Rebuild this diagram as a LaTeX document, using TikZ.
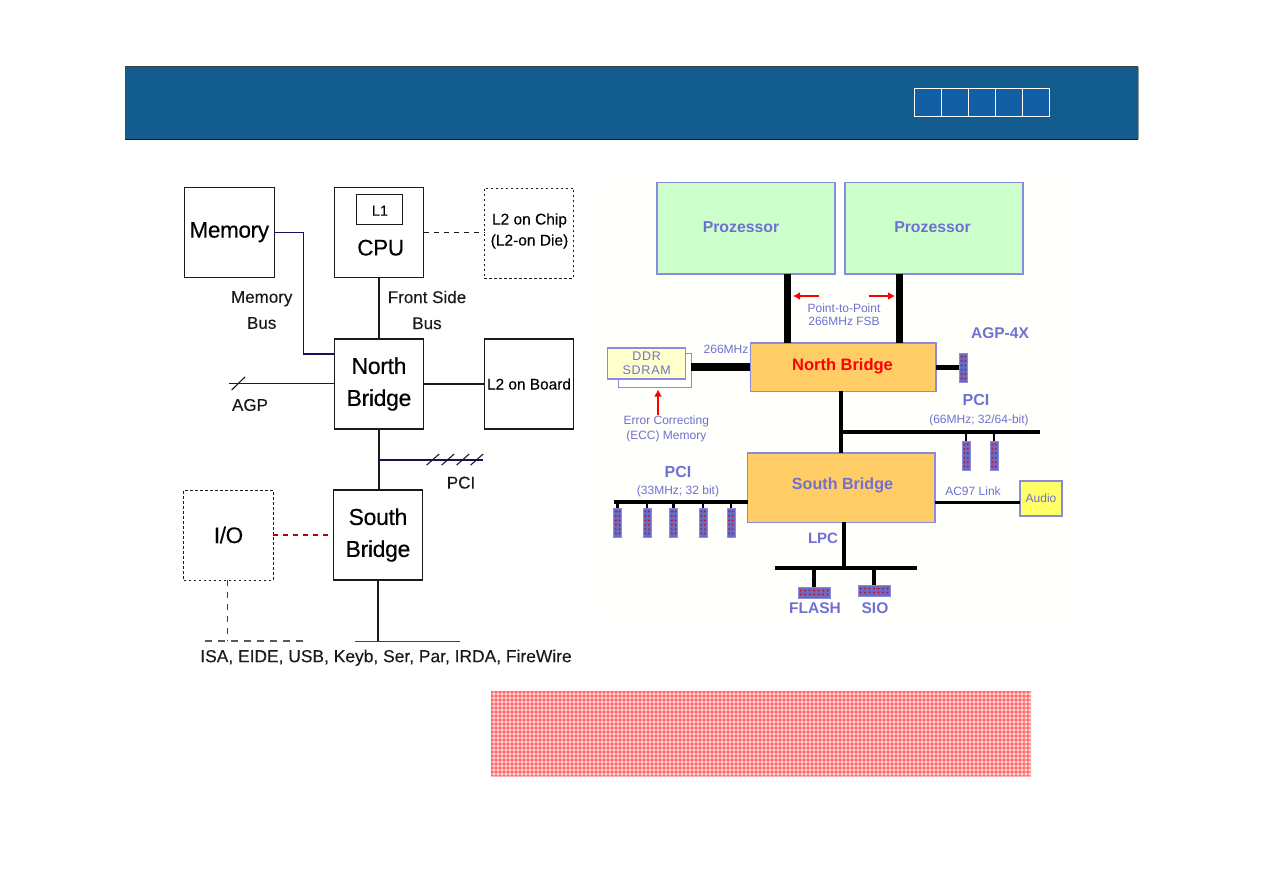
\documentclass[tikz,border=0pt]{standalone}
\usepackage{fontspec}
\setmainfont{Liberation Sans}
\usetikzlibrary{arrows.meta}
\definecolor{band}{HTML}{135C8E}
\definecolor{cell}{HTML}{125FA6}
\definecolor{ink}{HTML}{1A1A1A}
\definecolor{lav}{HTML}{7070D2}
\definecolor{edge}{HTML}{8A8ADF}
\definecolor{mint}{HTML}{CCFFCC}
\definecolor{amber}{HTML}{FFCC66}
\definecolor{cream}{HTML}{FFFFCC}
\definecolor{lemon}{HTML}{FFFF66}
\definecolor{chipblue}{HTML}{6A6AC4}
\definecolor{panel}{HTML}{FFFFFB}
\newcommand{\fs}[1]{\fontsize{#1}{#1}\selectfont}
\newcommand{\vchip}[3]{% name, centre x, top y
  \node[chipbox,minimum width=8pt,minimum height=29pt,anchor=north] (#1) at (#2,#3) {};
  \foreach \k in {0,...,5}{
    \fill[red!85!black] (#2-1.8,#3+3.5+\k*4.4) circle (0.9);
    \fill[red!85!black] (#2+1.8,#3+3.5+\k*4.4) circle (0.9);}
}
\newcommand{\hchip}[3]{% name, centre x, top y
  \node[chipbox,minimum width=32pt,minimum height=11pt,anchor=north] (#1) at (#2,#3) {};
  \foreach \k in {0,...,6}{
    \fill[red!85!black] (#2-13.5+\k*4.5,#3+3.6) circle (0.9);
    \fill[red!85!black] (#2-13.5+\k*4.5,#3+7.4) circle (0.9);}
}
\tikzset{
  x=1pt,y=-1pt,
  every node/.style={inner sep=0pt,outer sep=0pt,align=center},
  sq/.style={draw=ink,line width=1.1pt,fill=white,minimum width=89.5pt,minimum height=90pt},
  sqdash/.style={sq,line width=.9pt,dash pattern=on 2.5pt off 2.5pt},
  big/.style={font=\fs{22.5}\addfontfeature{LetterSpace=-1.5,FakeBold=0.25},text=black},
  twolines/.style={font=\fontsize{23}{32}\selectfont\addfontfeature{LetterSpace=-1.5,FakeBold=0.25},text=black},
  small/.style={font=\fs{17}\addfontfeature{FakeBold=0.12},text=ink},
  wire/.style={draw=ink,line width=1.1pt},
  dashwire/.style={wire,dash pattern=on 5pt off 5pt},
  violet label/.style={text=lav,font=\fs{12}},
  violet bold/.style={text=lav,font=\bfseries\fs{15.5}},
  panelbox/.style={draw=edge,line width=1.4pt,minimum height=91.5pt,minimum width=178pt,fill=mint},
  bridge/.style={draw=edge,line width=1.4pt,fill=amber},
  chipbox/.style={draw=edge,line width=.8pt,fill=chipblue},
  bus/.style={line width=#1,draw=black},
  redarrow/.style={draw=red,line width=2pt,-{Latex[length=7pt,width=8pt]}},
  headcell/.style={draw=white,line width=1.2pt,fill=cell,minimum width=27pt,minimum height=28pt},
}
\begin{document}
\begin{tikzpicture}
\useasboundingbox (0,0) rectangle (1263,893);
\fill[white] (0,0) rectangle (1263,893);

% title band with its row of cells
\node[fill=band,minimum width=1013pt,minimum height=72pt,anchor=north west] (title) at (125,67) {};
\draw[black!75,line width=1pt] (title.north west) -- (title.north east);
\draw[black!90,line width=.8pt] (title.south west) -- (title.south east);
\draw[black!40,line width=1pt] (title.north east) -- (title.south east);
\foreach \n/\cx in {1/928,2/955,3/982.3,4/1009,5/1036}
  \node[headcell] (cell\n) at (\cx,102.7) {};

% block diagram on the left
\node[sq,big] (mem) at (229.3,232.2) {Memory};
\node[sq] (cpu) at (379,232.2) {};
\node[draw=ink,line width=1pt,minimum width=46pt,minimum height=30pt] (lone) at (379,210) {};
\node[font=\fs{14.5}\addfontfeature{FakeBold=0.12},text=black] (lonetxt) at (380,210.7) {L1};
\node[big] (cputxt) at (380.7,247.7) {CPU};
\node[sqdash] (ltwochip) at (529,233) {};
\node[font=\fontsize{15.5}{21}\selectfont\addfontfeature{FakeBold=0.12},text=black] (ltwochiptxt) at (529.5,231) {L2 on Chip\\(L2-on Die)};
\node[sq,twolines] (nb) at (379,384) {North\\Bridge};
\node[sq,font=\fs{15.4}\addfontfeature{FakeBold=0.12}] (ltwoboard) at (529,384) {L2 on Board};
\node[sq,twolines] (sb) at (378,535) {South\\Bridge};
\node[sqdash,big] (io) at (228.5,535) {I/O};

\coordinate (memkink) at (303.5,354);
\coordinate (agpend) at (229,383.8);
\coordinate (pcitap) at (378.5,460);
\coordinate (pciend) at (483,460);
\coordinate (isatap) at (227.7,641);
\coordinate (dashleft) at (205,641);
\coordinate (dashright) at (303,641);
\coordinate (busleft) at (355,641.5);
\coordinate (busright) at (460,641.5);

\draw[wire,draw=blue!30!ink] (mem.east) -| (memkink) -- (nb.west |- memkink);
\draw[wire] (cpu.south) -- (nb.north);
\draw[dashwire] (cpu.east) -- (ltwochip.west |- cpu.east);
\draw[wire,draw=blue!65!ink] (agpend) -- (nb.west |- agpend);
\draw[wire] (231.7,390) -- (245,377);
\draw[wire] (nb.east) -- (ltwoboard.west);
\draw[wire] (nb.south) -- (sb.north -| nb.south);
\draw[wire,draw=blue!25!ink] (pcitap) -- (pciend);
\foreach \dx in {0,15,30,44}
  \draw[wire] (426.7+\dx,465) -- (439.2+\dx,454);
\draw[dashwire,draw=red!75!black] (io.east) -- (sb.west);
\draw[dashwire,draw=black!75,dash pattern=on 6pt off 6pt] (io.south -| isatap) -- (isatap);
\draw[dashwire,draw=black!65,dash pattern=on 7pt off 6pt] (dashleft) -- (dashright);
\draw[wire] (sb.south) -- (sb.south |- busleft);
\draw[wire,draw=teal!60!blue] (busleft) -- (busright);

\node[small,font=\fontsize{17}{26}\selectfont\addfontfeature{FakeBold=0.12}] (membus) at (261.7,310) {Memory\\Bus};
\node[small,font=\fontsize{17}{26}\selectfont\addfontfeature{FakeBold=0.12}] (fsb) at (427,310) {Front Side\\Bus};
\node[small] (agp) at (250,405) {AGP};
\node[small] (pci) at (461,482.7) {PCI};
\node[small,font=\fs{17.4}\addfontfeature{FakeBold=0.12}] (isa) at (386,657.7) {ISA, EIDE, USB, Keyb, Ser, Par, IRDA, FireWire};

% platform diagram on the right
\fill[panel] (600,178) rectangle (1068,622);
\node[panelbox] (cpua) at (746,228.3) {};
\node[panelbox] (cpub) at (934,228.3) {};
\node[violet bold,font=\bfseries\fs{15.8}] at (741,227) (cpuatxt) {Prozessor};
\node[violet bold,font=\bfseries\fs{15.8}] at (932.5,227) (cpubtxt) {Prozessor};
\node[bridge,minimum width=185.7pt,minimum height=48.3pt] (nbr) at (843.2,367.2) {};
\node[font=\bfseries\fs{16.5},text=red] (nbrtxt) at (842.5,366.5) {North Bridge};
\node[bridge,minimum width=187.3pt,minimum height=69.3pt] (sbr) at (841.4,487.7) {};
\node[violet bold,font=\bfseries\fs{16.1}] (sbrtxt) at (842.5,485) {South Bridge};

\draw[bus=7.5pt] (787.3,274) -- (787.3,343);
\draw[bus=7.5pt] (899.3,274) -- (899.3,343);
\draw[redarrow] (819,296) -- (793,296);
\draw[redarrow] (868.7,296) -- (895,296);
\node[violet label,font=\fontsize{12}{13.5}\selectfont] (ptp) at (844,314.5) {Point-to-Point\\266MHz FSB};
\node[violet bold] (agpfour) at (1000,333) {AGP-4X};
\node[violet label] (ddrclock) at (726,349) {266MHz};

\node[draw=edge,line width=1pt,fill=white,minimum width=73pt,minimum height=34pt] (ddrback) at (654.5,370) {};
\node[draw=edge,line width=1.2pt,fill=cream,minimum width=78pt,minimum height=31pt,font=\fontsize{12.5}{14}\selectfont\addfontfeature{LetterSpace=6},text=lav] (ddr) at (646.7,363.5) {\raisebox{-1pt}{DDR}\\\raisebox{-1pt}{SDRAM}};
\draw[bus=8pt] (ddrback.east |- nbr.west) -- (nbr.west);
\draw[redarrow] (658,415) -- (658,389.5);
\node[violet label,font=\fontsize{12}{15}\selectfont] (ecc) at (666.3,428.5) {Error Correcting\\(ECC) Memory};

\vchip{agpslot}{963.4}{353}
\draw[bus=5pt] (nbr.east) -- (agpslot.west |- nbr.east);

\coordinate (pcijoin) at (841,431.5);
\coordinate (pcitip) at (1039.5,431.5);
\draw[bus=4pt] (nbr.south -| pcijoin) -- (sbr.north -| pcijoin);
\draw[bus=4pt] (pcijoin) -- (pcitip);
\node[violet bold,font=\bfseries\fs{16}] (pcifast) at (976,400) {PCI};
\node[violet label] (pcifastnote) at (979,420) {(66MHz; 32/64-bit)};
\foreach \n/\cx in {a/966,b/994}{
  \vchip{fast\n}{\cx}{441}
  \draw[bus=2.5pt] (fast\n.north |- pcijoin) -- (fast\n.north);
}

\coordinate (pcislow) at (613.7,502.3);
\draw[bus=4pt] (pcislow) -- (sbr.west |- pcislow);
\node[violet bold,font=\bfseries\fs{16}] (pcileft) at (678,472) {PCI};
\node[violet label] (pcileftnote) at (678,491) {(33MHz; 32 bit)};
\foreach \n/\cx in {a/617.7,b/647,c/673.7,d/703,e/731}{
  \vchip{slow\n}{\cx}{508}
  \draw[bus=2.5pt] (slow\n.north |- pcislow) -- (slow\n.north);
}

\node[draw=edge,line width=1.2pt,fill=lemon,minimum width=42pt,minimum height=35pt,font=\fs{12},text=lav] (audio) at (1041,498.5) {Audio};
\draw[bus=3pt] (sbr.east |- pcislow) -- (audio.west |- pcislow);
\node[violet label] (ac) at (973,491) {AC97 Link};

\coordinate (lpcjoin) at (844,568);
\coordinate (lpcleft) at (775,568);
\coordinate (lpcright) at (917,568);
\draw[bus=4pt] (sbr.south -| lpcjoin) -- (lpcjoin);
\draw[bus=4pt] (lpcleft) -- (lpcright);
\node[violet bold,font=\bfseries\fs{15}] (lpc) at (823,538) {LPC};
\hchip{flash}{814}{587}
\hchip{sio}{874}{585}
\draw[bus=3.5pt] (flash.north |- lpcjoin) -- (flash.north);
\draw[bus=3.5pt] (sio.north |- lpcjoin) -- (sio.north);
\node[violet bold] (flashtxt) at (815,608) {FLASH};
\node[violet bold] (siotxt) at (875,608) {SIO};

% woven red field under the diagrams
\fill[red!15] (491,691) rectangle (1031,776);
\begin{scope}
  \clip (491,691) rectangle (1031,776);
  \foreach \i in {0,...,135}
    \fill[red,opacity=.3] (491+\i*4,691) rectangle +(2,85);
  \foreach \j in {0,...,21}
    \fill[red,opacity=.3] (491,691+\j*4) rectangle +(540,2);
\end{scope}
\end{tikzpicture}
\end{document}
